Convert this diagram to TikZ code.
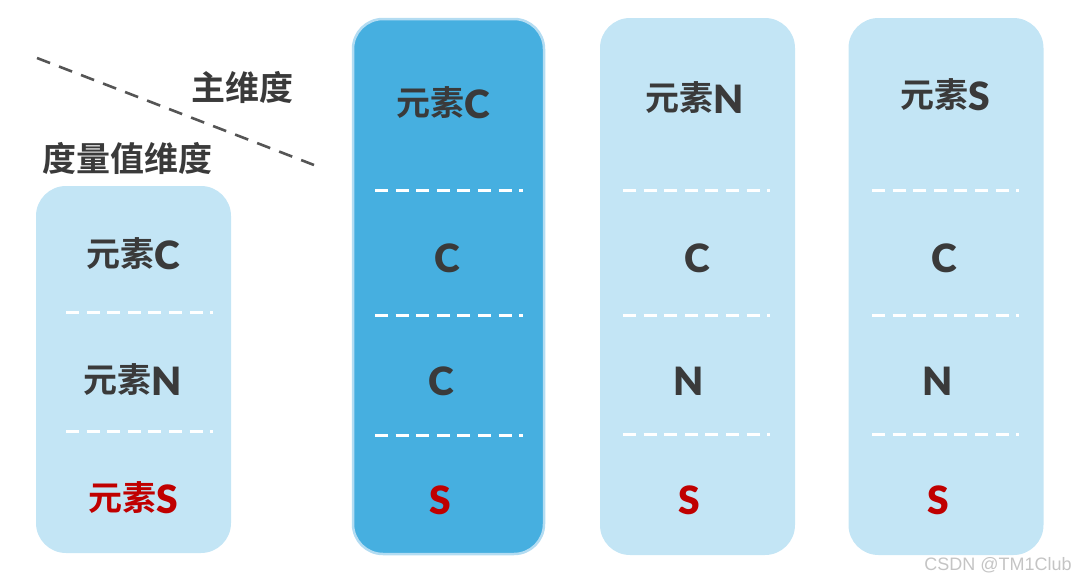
\documentclass[tikz,border=0pt]{standalone}
\usepackage{fontspec}
\setmainfont{Noto Sans CJK SC}[BoldFont={Noto Sans CJK SC Bold}]
\newfontfamily\wmfont{Liberation Sans}
\newfontfamily\latfont{Lato}[UprightFont={* Bold}]
\definecolor{lightfill}{HTML}{C3E5F5}
\definecolor{darkfill}{HTML}{46AFE0}
\definecolor{darkedge}{HTML}{B3DCF2}
\definecolor{txtgray}{HTML}{3A3A3A}
\definecolor{txtred}{HTML}{C00000}
\definecolor{wmgray}{HTML}{C4C4C4}
\definecolor{diaggray}{HTML}{555555}
\newcommand\latbig[1]{{\latfont\fontsize{39}{44}\selectfont #1}}
\newcommand\latlow[1]{\raisebox{-2.5pt}{\latbig{#1}}}
\tikzset{
  lightbox/.style={draw=none, fill=lightfill, rounded corners=30pt, inner sep=0pt},
  darkbox/.style={draw=darkedge, line width=2.5pt, fill=darkfill, rounded corners=30pt, inner sep=0pt},
  lbl/.style={inner sep=0pt, text=txtgray, font=\fontsize{34}{40}\selectfont\bfseries},
  redlbl/.style={lbl, text=txtred},
  sep/.style={draw=white, line width=3pt, dash pattern=on 13pt off 7.6pt},
  diag/.style={draw=diaggray, line width=2.6pt, dash pattern=on 14pt off 9.6pt},
}
\begin{document}
\begin{tikzpicture}[x=1pt,y=-1pt]
\useasboundingbox (0,0) rectangle (1080,582);
% boxes
\node[lightbox, minimum width=195pt, minimum height=367pt] (b0) at (133.5,369.5) {};
\node[darkbox, minimum width=191pt, minimum height=535pt] (b1) at (448.5,286.5) {};
\node[lightbox, minimum width=195pt, minimum height=537pt] (b2) at (697.5,286.5) {};
\node[lightbox, minimum width=195pt, minimum height=537pt] (b3) at (946,286.5) {};
% headers
\node[lbl] (t1) at (242,87) {主维度};
\node[lbl] (t2) at (127,158) {度量值维度};
\coordinate (d1) at (37,58);
\coordinate (d2) at (314,165);
\draw[diag] (d1) -- (d2);
% left box
\node[lbl] (l1) at (133,254) {元素\latlow{C}};
\node[lbl] (l2) at (133,380) {元素\latlow{N}};
\node[redlbl] (l3) at (133,498) {元素\latlow{S}};
\draw[sep] (66,312) -- (213,312);
\draw[sep] (66,431) -- (213,431);
% column C
\node[lbl] (c0) at (443,103) {元素\latlow{C}};
\node[lbl] (c1) at (447,258) {\latbig{C}};
\node[lbl] (c2) at (441,381) {\latbig{C}};
\node[redlbl] (c3) at (440,500) {\latbig{S}};
\draw[sep] (375,190) -- (523,190);
\draw[sep] (375,315) -- (523,315);
\draw[sep] (375,435) -- (523,435);
% column N
\node[lbl] (n0) at (695,98) {元素\latlow{N}};
\node[lbl] (n1) at (697,258) {\latbig{C}};
\node[lbl] (n2) at (689,381) {\latbig{N}};
\node[redlbl] (n3) at (689,500) {\latbig{S}};
\draw[sep] (623,190) -- (770,190);
\draw[sep] (623,315) -- (770,315);
\draw[sep] (623,434) -- (770,434);
% column S
\node[lbl] (s0) at (945,95) {元素\latlow{S}};
\node[lbl] (s1) at (944,258) {\latbig{C}};
\node[lbl] (s2) at (938,381) {\latbig{N}};
\node[redlbl] (s3) at (938,500) {\latbig{S}};
\draw[sep] (872,190) -- (1019,190);
\draw[sep] (872,315) -- (1019,315);
\draw[sep] (872,434) -- (1019,434);
% watermark
\node[inner sep=0pt, text=wmgray, font=\wmfont\fontsize{18}{20}\selectfont] (wm) at (998,565) {CSDN @TM1Club};
\end{tikzpicture}
\end{document}
